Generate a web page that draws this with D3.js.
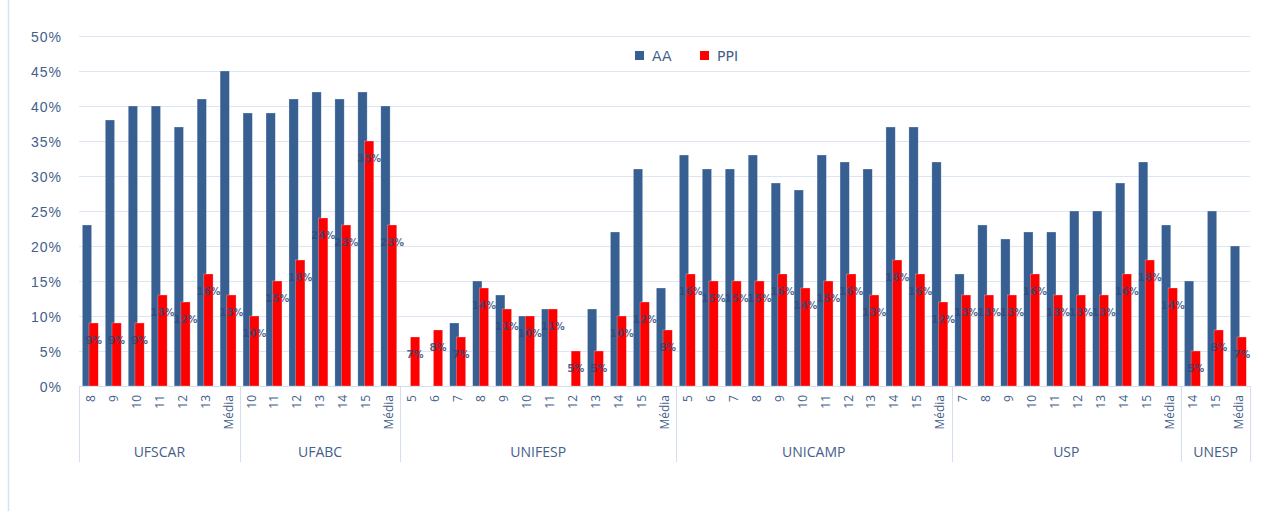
<!DOCTYPE html>
<html>
<head>
  <style type="text/css">
    body { margin: 0; background: #fff; }
    svg { font-family: "DejaVu Sans", sans-serif; }
    .grid line { stroke: #DCE6F2; stroke-width: 1px; }
    .yaxis text { fill: #44608A; font-size: 14px; letter-spacing: 1px; }
    .xaxis text { fill: #44608A; font-size: 12px; font-family: "Open Sans", sans-serif; }
    .xaxis .domain { stroke: #D3DFEE; }
    .sep { stroke: #D3DFEE; stroke-width: 1px; }
    .group-label { fill: #44608A; font-size: 14px; font-family: "Open Sans", sans-serif; }
    .aa { fill: #375F92; stroke: rgba(255,255,255,0.45); stroke-width: 0.6px; }
    .ppi { fill: #FF0000; stroke: rgba(255,255,255,0.45); stroke-width: 0.6px; }
    .val { fill: #2E4B7A; fill-opacity: 0.85; font-size: 10px; font-weight: bold; }
    .legend text { fill: #44608A; font-size: 14px; }
  </style>
</head>
<body>
<svg></svg>
<script src="https://d3js.org/d3.v7.min.js"></script>
<script>
    var width = 1268;
    var height = 511;

    /* data */
    var groups = ['UFSCAR', 'UFABC', 'UNIFESP', 'UNICAMP', 'USP', 'UNESP'];
    var groupYears = [
      ['8', '9', '10', '11', '12', '13', 'Média'],
      ['10', '11', '12', '13', '14', '15', 'Média'],
      ['5', '6', '7', '8', '9', '10', '11', '12', '13', '14', '15', 'Média'],
      ['5', '6', '7', '8', '9', '10', '11', '12', '13', '14', '15', 'Média'],
      ['7', '8', '9', '10', '11', '12', '13', '14', '15', 'Média'],
      ['14', '15', 'Média']
    ];
    var aaValues = [
      [23, 38, 40, 40, 37, 41, 45],
      [39, 39, 41, 42, 41, 42, 40],
      [0, 0, 9, 15, 13, 10, 11, 0, 11, 22, 31, 14],
      [33, 31, 31, 33, 29, 28, 33, 32, 31, 37, 37, 32],
      [16, 23, 21, 22, 22, 25, 25, 29, 32, 23],
      [15, 25, 20]
    ];
    var ppiValues = [
      [9, 9, 9, 13, 12, 16, 13],
      [10, 15, 18, 24, 23, 35, 23],
      [7, 8, 7, 14, 11, 10, 11, 5, 5, 10, 12, 8],
      [16, 15, 15, 15, 16, 14, 15, 16, 13, 18, 16, 12],
      [13, 13, 13, 16, 13, 13, 13, 16, 18, 14],
      [5, 8, 7]
    ];
    var yTicks = [0, 5, 10, 15, 20, 25, 30, 35, 40, 45, 50];
    var seriesNames = ['AA', 'PPI'];

    /* flatten into rows */
    var rows = [];
    groups.forEach(function(g, gi) {
      groupYears[gi].forEach(function(y, i) {
        rows.push({ key: g + '|' + y, group: g, label: y, aa: aaValues[gi][i], ppi: ppiValues[gi][i] });
      });
    });

    var margin = { left: 79, right: 18, top: 36, bottom: 125 };
    var svg = d3.select('svg')
      .attr('width', width)
      .attr('height', height);

    var x = d3.scaleBand()
      .domain(rows.map(function(d) { return d.key; }))
      .range([margin.left, width - margin.right])
      .padding(0);
    var y = d3.scaleLinear()
      .domain([0, 50])
      .range([height - margin.bottom, margin.top]);
    var bw = x.bandwidth();

    // chart frame line on the left
    svg.append('line')
      .attr('x1', 8.5).attr('x2', 8.5)
      .attr('y1', 0).attr('y2', height)
      .attr('stroke', '#D6E3F0').attr('stroke-width', 1.5);

    // gridlines
    svg.append('g')
      .attr('class', 'grid')
      .selectAll('line')
      .data(yTicks.slice(1))
      .enter()
      .append('line')
      .attr('x1', margin.left)
      .attr('x2', width - margin.right)
      .attr('y1', function(d) { return Math.round(y(d)) + 0.5; })
      .attr('y2', function(d) { return Math.round(y(d)) + 0.5; });

    // y axis
    var yAxis = svg.append('g')
      .attr('class', 'yaxis')
      .attr('transform', 'translate(' + (margin.left - 17) + ',0)')
      .call(d3.axisLeft(y).tickValues(yTicks).tickSize(0).tickFormat(function(d) { return d + '%'; }));
    yAxis.select('.domain').remove();
    yAxis.selectAll('text').attr('x', 0).attr('dy', '0.36em');

    // bars
    svg.append('g')
      .selectAll('rect')
      .data(rows.filter(function(d) { return d.aa > 0; }))
      .enter()
      .append('rect')
      .attr('class', 'aa')
      .attr('x', function(d) { return x(d.key) + bw * 0.145; })
      .attr('width', bw * 0.405)
      .attr('y', function(d) { return y(d.aa); })
      .attr('height', function(d) { return y(0) - y(d.aa); });

    svg.append('g')
      .selectAll('rect')
      .data(rows)
      .enter()
      .append('rect')
      .attr('class', 'ppi')
      .attr('x', function(d) { return x(d.key) + bw * 0.435; })
      .attr('width', bw * 0.405)
      .attr('y', function(d) { return y(d.ppi); })
      .attr('height', function(d) { return y(0) - y(d.ppi); });

    // PPI value labels
    svg.append('g')
      .selectAll('text')
      .data(rows)
      .enter()
      .append('text')
      .attr('class', 'val')
      .attr('text-anchor', 'middle')
      .attr('x', function(d) { return x(d.key) + bw * 0.6375; })
      .attr('y', function(d) { return y(d.ppi) + 17; })
      .attr('dy', '0.36em')
      .text(function(d) { return d.ppi + '%'; });

    // x axis
    var xAxis = svg.append('g')
      .attr('class', 'xaxis')
      .attr('transform', 'translate(0,' + y(0) + ')')
      .call(d3.axisBottom(x).tickSize(0).tickFormat(function(k) { return k.split('|')[1]; }));
    xAxis.select('.domain').attr('d', 'M' + margin.left + ',0.5H' + (width - margin.right));
    xAxis.selectAll('text')
      .attr('transform', 'rotate(-90)')
      .attr('x', -9)
      .attr('y', 0)
      .attr('dy', '0.36em')
      .attr('text-anchor', 'end');

    // group separators and labels
    var bounds = [];
    var idx = 0;
    groups.forEach(function(g, gi) {
      var first = rows[idx].key;
      idx += groupYears[gi].length;
      var last = rows[idx - 1].key;
      bounds.push({ name: g, x0: x(first), x1: x(last) + bw });
    });

    var sepX = [bounds[0].x0].concat(bounds.map(function(b) { return b.x1; }));
    svg.append('g')
      .selectAll('line')
      .data(sepX)
      .enter()
      .append('line')
      .attr('class', 'sep')
      .attr('x1', function(d) { return Math.round(d) + 0.5; })
      .attr('x2', function(d) { return Math.round(d) + 0.5; })
      .attr('y1', y(0))
      .attr('y2', y(0) + 76);

    svg.append('g')
      .selectAll('text')
      .data(bounds)
      .enter()
      .append('text')
      .attr('class', 'group-label')
      .attr('text-anchor', 'middle')
      .attr('x', function(d) { return (d.x0 + d.x1) / 2; })
      .attr('y', y(0) + 66)
      .attr('dy', '0.36em')
      .text(function(d) { return d.name; });

    // legend
    var legend = svg.append('g').attr('class', 'legend');
    var legendX = [635, 700];
    seriesNames.forEach(function(s, i) {
      legend.append('rect')
        .attr('x', legendX[i])
        .attr('y', 51)
        .attr('width', 9)
        .attr('height', 9)
        .attr('fill', i === 0 ? '#375F92' : '#FF0000');
      legend.append('text')
        .attr('x', legendX[i] + 17)
        .attr('y', 55.5)
        .attr('dy', '0.36em')
        .text(s);
    });
  </script>
</body>
</html>
